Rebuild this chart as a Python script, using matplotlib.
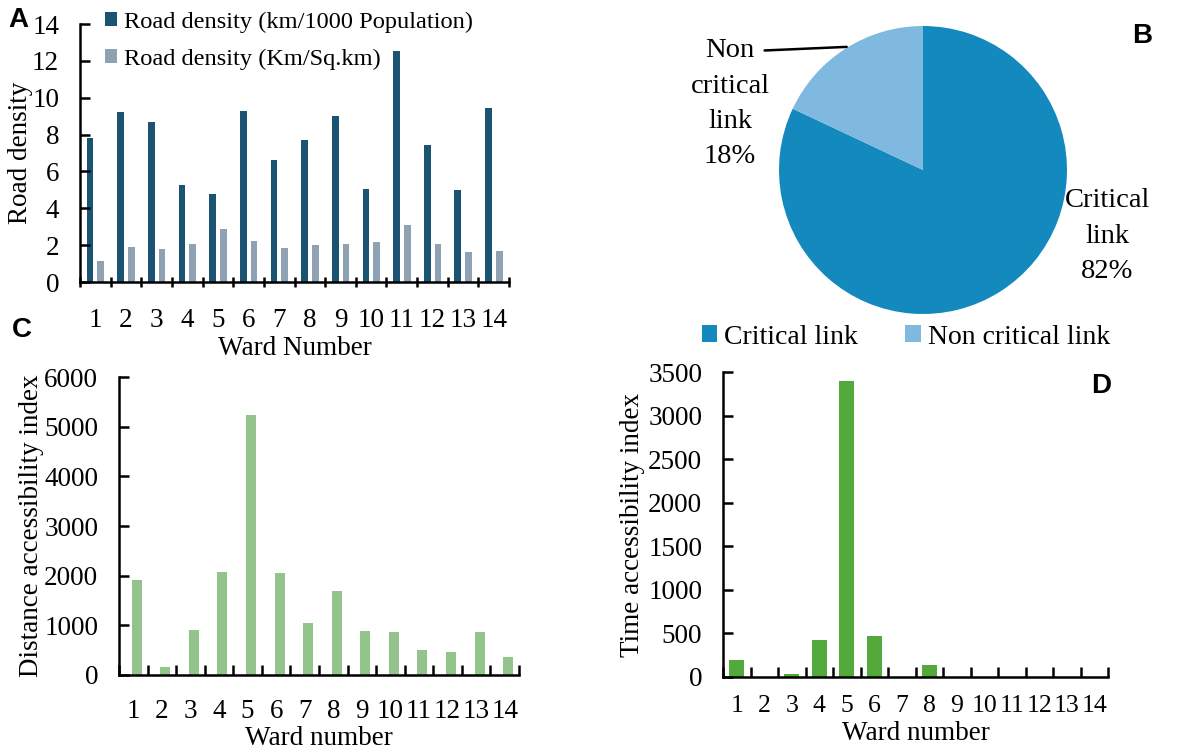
import matplotlib
matplotlib.use('Agg')
import matplotlib.pyplot as plt
import numpy as np

plt.rcParams['font.family'] = ['Liberation Serif', 'DejaVu Serif']
plt.rcParams['axes.linewidth'] = 1.8

# data
wards = [str(i) for i in range(1, 15)]
dens_pop = [7.8, 9.2, 8.7, 5.25, 4.8, 9.3, 6.6, 7.7, 9.0, 5.05, 12.55, 7.45, 5.0, 9.45]
dens_area = [1.15, 1.88, 1.8, 2.05, 2.9, 2.25, 1.83, 2.0, 2.05, 2.15, 3.12, 2.05, 1.62, 1.68]
pie_labels = ['Critical link', 'Non critical link']
pie_share = [82, 18]
dist_index = [1915, 170, 905, 2070, 5240, 2050, 1050, 1700, 895, 860, 505, 465, 875, 365]
time_index = [190, 0, 30, 430, 3400, 465, 0, 138, 0, 0, 0, 0, 0, 0]

W, H = 1189, 756
FS = 19.5
fig = plt.figure(figsize=(W / 100, H / 100), dpi=100)


def box(l, t, r, b):
    return [l / W, 1 - b / H, (r - l) / W, (b - t) / H]


def style_bar_axes(ax, n, tickdir='in'):
    ax.spines['top'].set_visible(False)
    ax.spines['right'].set_visible(False)
    ax.set_xlim(0.5, n + 0.5)
    ax.set_xticks(np.arange(1, n + 1))
    ax.set_xticklabels(wards)
    ax.set_xticks(np.arange(0.5, n + 1), minor=True)
    ax.tick_params(axis='x', which='major', length=0, pad=14, labelsize=FS)
    ax.tick_params(axis='x', which='minor', length=7, width=1.8, direction=tickdir)
    ax.tick_params(axis='y', direction='in', length=7, width=1.8, labelsize=FS, pad=15)


x = np.arange(1, 15)

# A: road density
axA = fig.add_axes(box(80, 24, 509, 282))
axA.bar(x - 0.17, dens_pop, width=0.22, color='#1b5472',
        label='Road density (km/1000 Population)')
axA.bar(x + 0.18, dens_area, width=0.22, color='#8fa2b4',
        label='Road density (Km/Sq.km)')
style_bar_axes(axA, 14, 'inout')
axA.set_ylim(0, 14)
axA.set_yticks(range(0, 15, 2))
axA.tick_params(axis='x', which='major', pad=19)
axA.set_ylabel('Road density', fontsize=FS, labelpad=-1)
axA.set_xlabel('Ward Number', fontsize=FS, labelpad=2)
axA.legend(loc='upper left', bbox_to_anchor=(0.035, 1.085), frameon=False, fontsize=17.6,
           handlelength=0.5, handleheight=0.5, handletextpad=0.3, labelspacing=0.65,
           borderaxespad=0)

# B: pie
axB = fig.add_axes(box(779, 26, 1067, 314))
wedges, _ = axB.pie(pie_share, colors=['#1389be', '#7fb9df'], startangle=90,
                    counterclock=False, radius=1)
axB.set_aspect('equal')
axB.set_xlim(-1, 1)
axB.set_ylim(-1, 1)
axB.text(1.28, -0.46, 'Critical\nlink\n82%', ha='center', va='center', fontsize=20.5,
         linespacing=1.55)
axB.text(-1.34, 0.46, 'Non\ncritical\nlink\n18%', ha='center', va='center', fontsize=20.5,
         linespacing=1.55)
axB.annotate('', xy=(-0.53, 0.855), xytext=(-1.1, 0.83),
             arrowprops=dict(arrowstyle='-', color='black', lw=1.8,
                             shrinkA=0, shrinkB=0))
fig.legend(wedges, pie_labels, loc='center', bbox_to_anchor=(906 / W, 1 - 337 / H),
           ncol=2, frameon=False, fontsize=20, handlelength=0.55, handleheight=0.55,
           handletextpad=0.25, columnspacing=1.7)

# C: distance accessibility
axC = fig.add_axes(box(119, 377, 519, 675))
axC.bar(x + 0.12, dist_index, width=0.35, color='#93c48b')
style_bar_axes(axC, 14)
axC.tick_params(axis='x', which='major', pad=17)
axC.set_ylim(0, 6000)
axC.set_yticks(range(0, 6001, 1000))
axC.set_ylabel('Distance accessibility index', fontsize=FS, labelpad=0)
axC.set_xlabel('Ward number', fontsize=FS, labelpad=2)

# D: time accessibility
axD = fig.add_axes(box(723, 372, 1108, 677))
axD.bar(x, time_index, width=0.56, color='#53a93b')
style_bar_axes(axD, 14)
axD.tick_params(axis='x', which='major', labelsize=18.5, pad=13)
axD.set_ylim(0, 3500)
axD.set_yticks(range(0, 3501, 500))
axD.set_ylabel('Time accessibility index', fontsize=FS, labelpad=2)
axD.set_xlabel('Ward number', fontsize=FS, labelpad=3)

# panel letters
for lab, px_, py_ in [('A', 18, 20), ('B', 1142, 36), ('C', 22, 330), ('D', 1101, 386)]:
    fig.text(px_ / W, 1 - py_ / H, lab, fontsize=20, fontweight='bold',
             family='Liberation Sans', ha='center', va='center')

fig.savefig('out.png', dpi=100, facecolor='white')
